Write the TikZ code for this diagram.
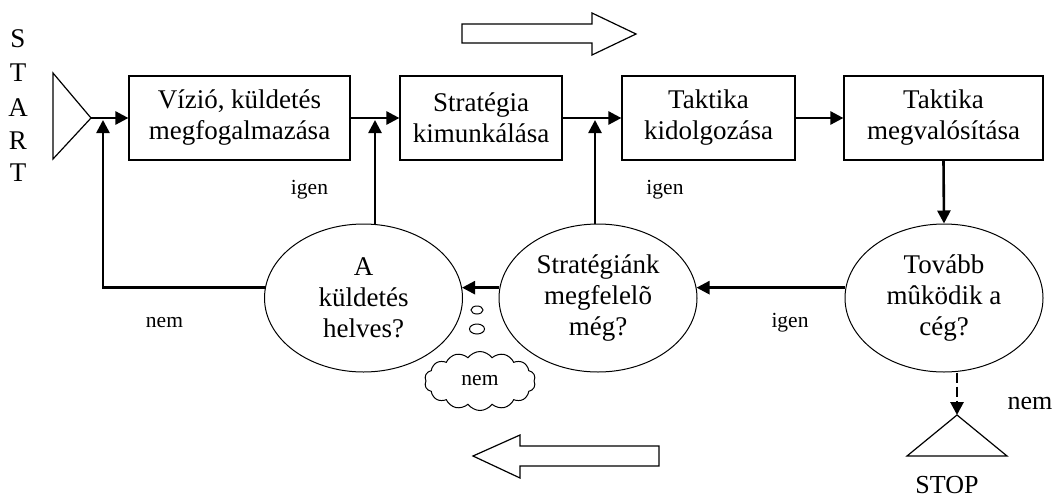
\documentclass[tikz,border=0pt]{standalone}
\usepackage{fontspec}
\setmainfont{Liberation Serif}
\usetikzlibrary{arrows.meta,shapes.geometric,shapes.symbols}
\begin{document}
\begin{tikzpicture}[x=1pt,y=-1pt,
  bigtxt/.style={font=\fontsize{27}{31}\selectfont},
  smalltxt/.style={font=\fontsize{21.5}{24}\selectfont},
  stepbox/.style={draw,line width=1.2pt,bigtxt,align=center,inner sep=0pt},
  decision/.style={draw,ellipse,line width=1pt,bigtxt,align=center,inner sep=0pt,minimum width=198pt,minimum height=148pt},
  arr/.style={line width=2.6pt,-{Triangle[length=13pt,width=13pt]}},
  outline/.style={draw,line width=1.2pt,line join=miter}]
\useasboundingbox (0,0) rectangle (1055,498);
% START
\node[bigtxt] (s1) at (18,39) {S};
\node[bigtxt] (s2) at (18,73) {T};
\node[bigtxt] (s3) at (18,108) {A};
\node[bigtxt] (s4) at (18,141) {R};
\node[bigtxt] (s5) at (18,173) {T};
\draw[outline] (53,73) -- (91,118) -- (53,159) -- cycle;
\coordinate (stt) at (91,118);
% boxes
\node[stepbox,minimum width=221pt,minimum height=84pt] (b1) at (239.5,118) {Vízió, küldetés\\megfogalmazása};
\node[stepbox,minimum width=162pt,minimum height=84pt] (b2) at (481,118) {Stratégia\\kimunkálása};
\node[stepbox,minimum width=173pt,minimum height=84pt] (b3) at (708.5,118) {Taktika\\kidolgozása};
\node[stepbox,minimum width=199pt,minimum height=84pt] (b4) at (943.5,118) {Taktika\\megvalósítása};
\coordinate (j0) at (103,118);
\coordinate (j1) at (375,118);
\coordinate (j2) at (595,118);
% decisions
\node[decision] (e1) at (363.5,298) {A\\küldetés\\helves?};
\node[decision] (e2) at (598,298) {Stratégiánk\\megfelelõ\\még?};
\node[decision] (e3) at (944,298) {Tovább\\mûködik a\\cég?};
% top flow
\draw[arr] (stt) -- (b1.west);
\draw[arr] (b1.east) -- (b2.west);
\draw[arr] (b2.east) -- (b3.west);
\draw[arr] (b3.east) -- (b4.west);
\draw[arr] (b4.south) -- (e3.north);
% feedback
\draw[arr] (e3.174) -- (e2.6);
\draw[arr] (e2.174) -- (e1.6);
\draw[arr,shorten >=2pt] (e1.174) -| (j0);
\draw[arr,shorten >=2pt] (e1.north -| j1) -- (j1);
\draw[arr,shorten >=2pt] (e2.north -| j2) -- (j2);
% labels
\node[smalltxt] (l1) at (309.5,190) {igen};
\node[smalltxt] (l2) at (665,190) {igen};
\node[smalltxt] (l3) at (790,323) {igen};
\node[smalltxt] (l4) at (164.5,323) {nem};
% thought bubble
\node[draw,ellipse,line width=1pt,minimum width=12pt,minimum height=8pt,inner sep=0pt] (t1) at (477,310) {};
\node[draw,ellipse,line width=1pt,minimum width=15pt,minimum height=10pt,inner sep=0pt] (t2) at (477,329) {};
\node[draw,cloud,cloud puffs=14,cloud puff arc=110,aspect=1.9,line width=1pt,minimum width=111pt,minimum height=59pt,inner sep=0pt,smalltxt] (cl) at (480,381) {nem};
% STOP
\draw[outline] (907,456) -- (957,415) -- (1007,456) -- cycle;
\coordinate (sp) at (957,415);
\draw[line width=2.8pt,dash pattern=on 10pt off 4pt,-{Triangle[length=13pt,width=13pt]}] (e3.south -| sp) -- (sp);
\node[font=\fontsize{26}{30}\selectfont] (stop) at (947,485) {STOP};
\node[font=\fontsize{26}{30}\selectfont] (nem2) at (1030,403) {nem};
% big arrows
\draw[outline] (462,24) -- (592,24) -- (592,13) -- (636,34) -- (592,55) -- (592,43) -- (462,43) -- cycle;
\draw[outline] (659,446) -- (520,446) -- (520,435) -- (473,456) -- (520,478) -- (520,466) -- (659,466) -- cycle;
\end{tikzpicture}
\end{document}
